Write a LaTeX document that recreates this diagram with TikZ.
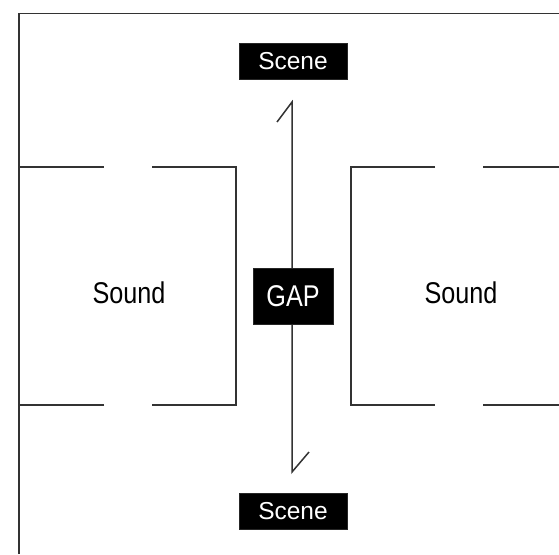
\documentclass[tikz,border=0pt]{standalone}
\usepackage{fontspec}
\setmainfont{Liberation Sans}
\newfontfamily\narrowsf[FakeStretch=0.84]{Liberation Sans}
\begin{document}
\begin{tikzpicture}[x=1pt,y=-1pt,
  wall/.style={draw=black!80,line width=1.8pt},
  blackbox/.style={fill=black,text=white,inner sep=0pt,draw=black!85,line width=0.6pt},
  scenelbl/.style={blackbox,minimum width=108pt,minimum height=36pt,font=\fontsize{24.5}{28}\selectfont},
  gaplbl/.style={blackbox,minimum width=80pt,minimum height=56pt,font=\narrowsf\fontsize{30}{34}\selectfont},
  soundlbl/.style={inner sep=0pt,font=\narrowsf\fontsize{30}{34}\selectfont}]
\useasboundingbox (0,0) rectangle (559,554);
\fill[white] (0,0) rectangle (559,554);
% outer frame (top and left)
\draw[wall] (19,554) -- (19,13.5) -- (559,13.5);
% left sound room
\draw[wall] (19,167) -- (104,167);
\draw[wall] (152,167) -- (236,167) -- (236,405) -- (152,405);
\draw[wall] (104,405) -- (19,405);
% right sound room
\draw[wall] (435,167) -- (351,167) -- (351,405) -- (435,405);
\draw[wall] (483,167) -- (559,167);
\draw[wall] (483,405) -- (559,405);
% timeline with ticks
\coordinate (ltop) at (292,102);
\coordinate (lbot) at (292,472);
\coordinate (ttop) at (277,122);
\coordinate (tbot) at (309,452);
\draw[wall,line width=1.5pt] (ttop) -- (ltop) -- (lbot) -- (tbot);
% labels
\node[scenelbl] (scenetop) at (293,61) {Scene};
\node[scenelbl] (scenebot) at (293,511.5) {Scene};
\node[gaplbl] (gap) at (293,296) {GAP};
\node[soundlbl] (soundl) at (129,293) {Sound};
\node[soundlbl] (soundr) at (461,293) {Sound};
\end{tikzpicture}
\end{document}
